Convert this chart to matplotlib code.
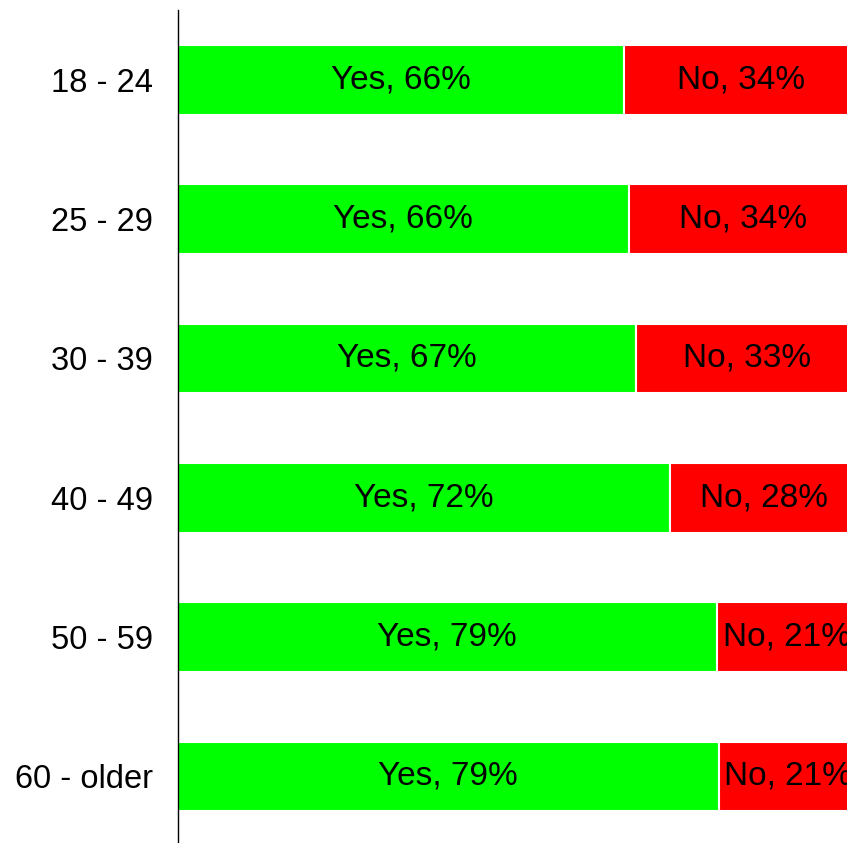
import matplotlib
matplotlib.use("Agg")
import matplotlib.pyplot as plt

categories = ["18 - 24", "25 - 29", "30 - 39", "40 - 49", "50 - 59", "60 - older"]
yes_values = [65.6, 66.3, 67.4, 72.4, 79.2, 79.5]
no_values = [34.4, 33.7, 32.6, 27.6, 20.8, 20.5]
yes_labels = ["Yes, 66%", "Yes, 66%", "Yes, 67%", "Yes, 72%", "Yes, 79%", "Yes, 79%"]
no_labels = ["No, 34%", "No, 34%", "No, 33%", "No, 28%", "No, 21%", "No, 21%"]

plt.rcParams['font.family'] = ['Liberation Sans', 'DejaVu Sans']

W, H = 847, 843
fig = plt.figure(figsize=(W / 100, H / 100), dpi=100)
left_px, right_px = 178, 858
top_px, bottom_px = 10, 846
ax = fig.add_axes([left_px / W, 1 - bottom_px / H, (right_px - left_px) / W, (bottom_px - top_px) / H])

y = list(range(len(categories)))
ax.barh(y, yes_values, height=0.5, color="#00ff00", edgecolor="white", linewidth=1.5)
ax.barh(y, no_values, left=yes_values, height=0.5, color="#ff0000", edgecolor="white", linewidth=1.5)

for i in y:
    ax.text(yes_values[i] / 2, i, yes_labels[i], ha="center", va="center", fontsize=24, color="black")
    ax.text(yes_values[i] + no_values[i] / 2, i, no_labels[i], ha="center", va="center", fontsize=24, color="black")

ax.set_xlim(0, 100)
ax.set_ylim(len(categories) - 0.5, -0.5)
ax.set_yticks(y)
ax.set_yticklabels(categories, fontsize=23.5)
ax.tick_params(axis="y", length=0, pad=18)
ax.set_xticks([])
for s in ["top", "right", "bottom"]:
    ax.spines[s].set_visible(False)
ax.spines["left"].set_linewidth(1.0)
ax.spines["left"].set_color("black")

fig.savefig("out.png", dpi=100)
